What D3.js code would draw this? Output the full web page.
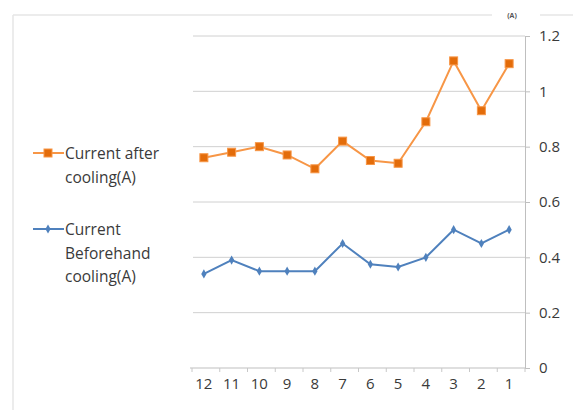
<!DOCTYPE html>
<html>
<head>
<meta charset="utf-8">
<script src="https://cdn.jsdelivr.net/npm/d3@7"></script>
<style>
html,body{margin:0;padding:0;background:#fff;}
svg{display:block;}
text{font-family:"Open Sans","Noto Sans",sans-serif;}
</style>
</head>
<body>
<svg id="chart" width="573" height="410"></svg>
<script>
const categories = ["12","11","10","9","8","7","6","5","4","3","2","1"];
const afterCooling = [0.76,0.78,0.80,0.77,0.72,0.82,0.75,0.74,0.89,1.11,0.93,1.10];
const beforeCooling = [0.34,0.39,0.35,0.35,0.35,0.45,0.375,0.365,0.40,0.50,0.45,0.50];
const yTicks = [0,0.2,0.4,0.6,0.8,1,1.2];
const yTickLabels = ["0","0.2","0.4","0.6","0.8","1","1.2"];
const seriesNames = [["Current after","cooling(A)"],["Current","Beforehand","cooling(A)"]];
const unitLabel = "(A)";

const svg = d3.select("#chart");
const pLeft = 193, pRight = 525, pTop = 36, pBottom = 368;

const x = d3.scaleBand().domain(categories).range([192, pRight]);
const y = d3.scaleLinear().domain([0,1.2]).range([pBottom, pTop]);

// outer frame (light)
svg.append("line").attr("x1",13).attr("x2",492).attr("y1",15).attr("y2",15).attr("stroke","#e6e6e6").attr("stroke-width",1.5);
svg.append("line").attr("x1",540).attr("x2",573).attr("y1",15).attr("y2",15).attr("stroke","#e6e6e6").attr("stroke-width",1.5);
svg.append("line").attr("x1",13).attr("x2",13).attr("y1",15).attr("y2",410).attr("stroke","#e6e6e6").attr("stroke-width",1.5);
svg.append("text").attr("x",512).attr("y",18).attr("text-anchor","middle").attr("font-size",7).attr("font-weight","bold").attr("fill","#555").text(unitLabel);

// gridlines
svg.append("g").selectAll("line").data(yTicks.filter(d=>d>0)).join("line")
  .attr("x1",pLeft).attr("x2",pRight).attr("y1",d=>y(d)).attr("y2",d=>y(d))
  .attr("stroke","#d0d0d0").attr("stroke-width",1);

// right axis
const yAxis = d3.axisRight(y).tickValues(yTicks).tickFormat((d,i)=>yTickLabels[i]).tickSize(5).tickPadding(9);
const gy = svg.append("g").attr("transform",`translate(${pRight},0)`).call(yAxis);
gy.select(".domain").attr("stroke","#bfbfbf");
gy.selectAll(".tick line").attr("stroke","#bfbfbf");
gy.selectAll(".tick text").attr("font-size",15).attr("fill","#3a3a3a").style("font-family","'Open Sans',sans-serif");

// bottom axis
const gx = svg.append("g").attr("transform",`translate(0,${pBottom})`);
gx.append("line").attr("x1",pLeft-3).attr("x2",pRight).attr("y1",0).attr("y2",0).attr("stroke","#bfbfbf");
const bounds = categories.map(c=>x(c)).concat([pRight]);
gx.selectAll("line.tk").data(bounds).join("line").attr("class","tk")
  .attr("x1",d=>d).attr("x2",d=>d).attr("y1",0).attr("y2",4).attr("stroke","#c8c8c8");
gx.selectAll("text").data(categories).join("text")
  .attr("x",d=>x(d)+x.bandwidth()/2-2).attr("y",21).attr("text-anchor","middle")
  .attr("font-size",15).attr("fill","#3a3a3a").text(d=>d);

const cx = d => x(d)+x.bandwidth()/2-2;

// series
const line = d3.line().x((d,i)=>cx(categories[i])).y(d=>y(d));
const orange = "#F79646", orangeDark = "#E36C0A", blue = "#4F81BD";

svg.append("path").datum(afterCooling).attr("d",line).attr("fill","none").attr("stroke",orange).attr("stroke-width",2);
svg.append("g").selectAll("rect").data(afterCooling).join("rect")
  .attr("x",(d,i)=>cx(categories[i])-4).attr("y",d=>y(d)-4).attr("width",8).attr("height",8)
  .attr("fill",orangeDark).attr("stroke",orange).attr("stroke-width",1);

svg.append("path").datum(beforeCooling).attr("d",line).attr("fill","none").attr("stroke",blue).attr("stroke-width",2);
const diamond = d3.symbol().type(d3.symbolDiamond).size(24);
svg.append("g").selectAll("path").data(beforeCooling).join("path")
  .attr("transform",(d,i)=>`translate(${cx(categories[i])},${y(d)})`).attr("d",diamond)
  .attr("fill",blue);

// legend
const lg = svg.append("g");
lg.append("line").attr("x1",33).attr("x2",64).attr("y1",153).attr("y2",153).attr("stroke",orange).attr("stroke-width",2);
lg.append("rect").attr("x",44).attr("y",149).attr("width",8).attr("height",8).attr("fill",orangeDark).attr("stroke",orange);
lg.append("line").attr("x1",33).attr("x2",64).attr("y1",229).attr("y2",229).attr("stroke",blue).attr("stroke-width",2);
lg.append("path").attr("transform","translate(48,229)").attr("d",diamond).attr("fill",blue);

const t1 = lg.append("text").attr("x",65).attr("y",159).attr("font-size",15.5).attr("fill","#3a3a3a");
seriesNames[0].forEach((s,i)=>t1.append("tspan").attr("x",65).attr("dy",i?24:0).text(s));
const t2 = lg.append("text").attr("x",65).attr("y",235).attr("font-size",15.5).attr("fill","#3a3a3a");
seriesNames[1].forEach((s,i)=>t2.append("tspan").attr("x",65).attr("dy",i?23.5:0).text(s));
</script>
</body>
</html>
